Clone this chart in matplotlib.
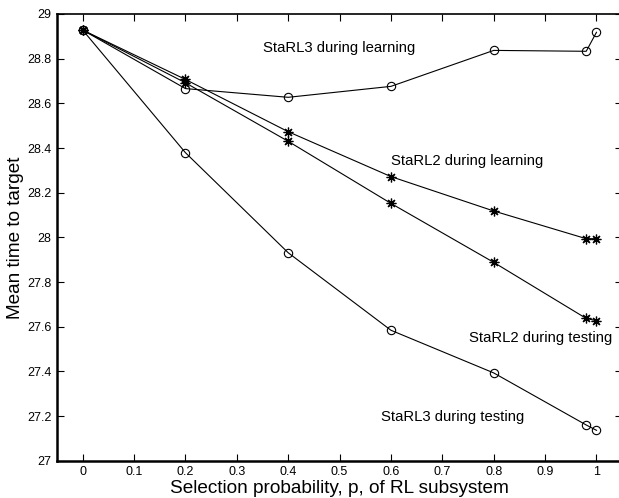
import matplotlib
matplotlib.use("Agg")
import matplotlib.pyplot as plt

plt.rcParams['font.family'] = ['Liberation Sans', 'DejaVu Sans']

x = [0, 0.2, 0.4, 0.6, 0.8, 0.98, 1.0]
starl3_learning = [28.928, 28.666, 28.627, 28.676, 28.837, 28.833, 28.918]
starl2_learning = [28.928, 28.707, 28.473, 28.272, 28.118, 27.994, 27.994]
starl2_testing = [28.928, 28.692, 28.430, 28.152, 27.888, 27.637, 27.627]
starl3_testing = [28.928, 28.379, 27.931, 27.584, 27.393, 27.160, 27.136]

xticks = [0, 0.1, 0.2, 0.3, 0.4, 0.5, 0.6, 0.7, 0.8, 0.9, 1.0]
xticklabels = ["0", "0.1", "0.2", "0.3", "0.4", "0.5", "0.6", "0.7", "0.8", "0.9", "1"]
yticks = [27, 27.2, 27.4, 27.6, 27.8, 28, 28.2, 28.4, 28.6, 28.8, 29]
yticklabels = ["27", "27.2", "27.4", "27.6", "27.8", "28", "28.2", "28.4", "28.6", "28.8", "29"]

fig = plt.figure(figsize=(6.19, 4.98), dpi=100)
ax = fig.add_axes([0.0921, 0.0749, 0.913, 0.897])

star = (8, 2, 0)
common = dict(color='black', lw=0.8)
ax.plot(x, starl3_learning, marker='o', ms=6, mfc='none', mec='black', mew=0.8, **common)
ax.plot(x, starl2_learning, marker=star, ms=7, mfc='black', mec='black', mew=0.9, **common)
ax.plot(x, starl2_testing, marker=star, ms=7, mfc='black', mec='black', mew=0.9, **common)
ax.plot(x, starl3_testing, marker='o', ms=6, mfc='none', mec='black', mew=0.8, **common)

fs = 10.75
ax.text(0.35, 28.848, "StaRL3 during learning", fontsize=fs, va='center', ha='left')
ax.text(0.601, 28.343, "StaRL2 during learning", fontsize=fs, va='center', ha='left')
ax.text(0.751, 27.548, "StaRL2 during testing", fontsize=fs, va='center', ha='left')
ax.text(0.581, 27.197, "StaRL3 during testing", fontsize=fs, va='center', ha='left')

ax.set_xlim(-0.05, 1.05)
ax.set_ylim(27, 29)
ax.set_xticks(xticks)
ax.set_xticklabels(xticklabels)
ax.set_yticks(yticks)
ax.set_yticklabels(yticklabels)
ax.tick_params(direction='in', top=True, right=True, length=5, width=0.8, labelsize=9, pad=4)

for side in ['left', 'bottom']:
    ax.spines[side].set_linewidth(1.8)
ax.spines['top'].set_linewidth(1.2)
ax.spines['right'].set_visible(False)

ax.set_xlabel("Selection probability, p, of RL subsystem", fontsize=13.7, labelpad=1.5)
ax.set_ylabel("Mean time to target", fontsize=13.7, labelpad=2)

fig.savefig("out.png", dpi=100)
